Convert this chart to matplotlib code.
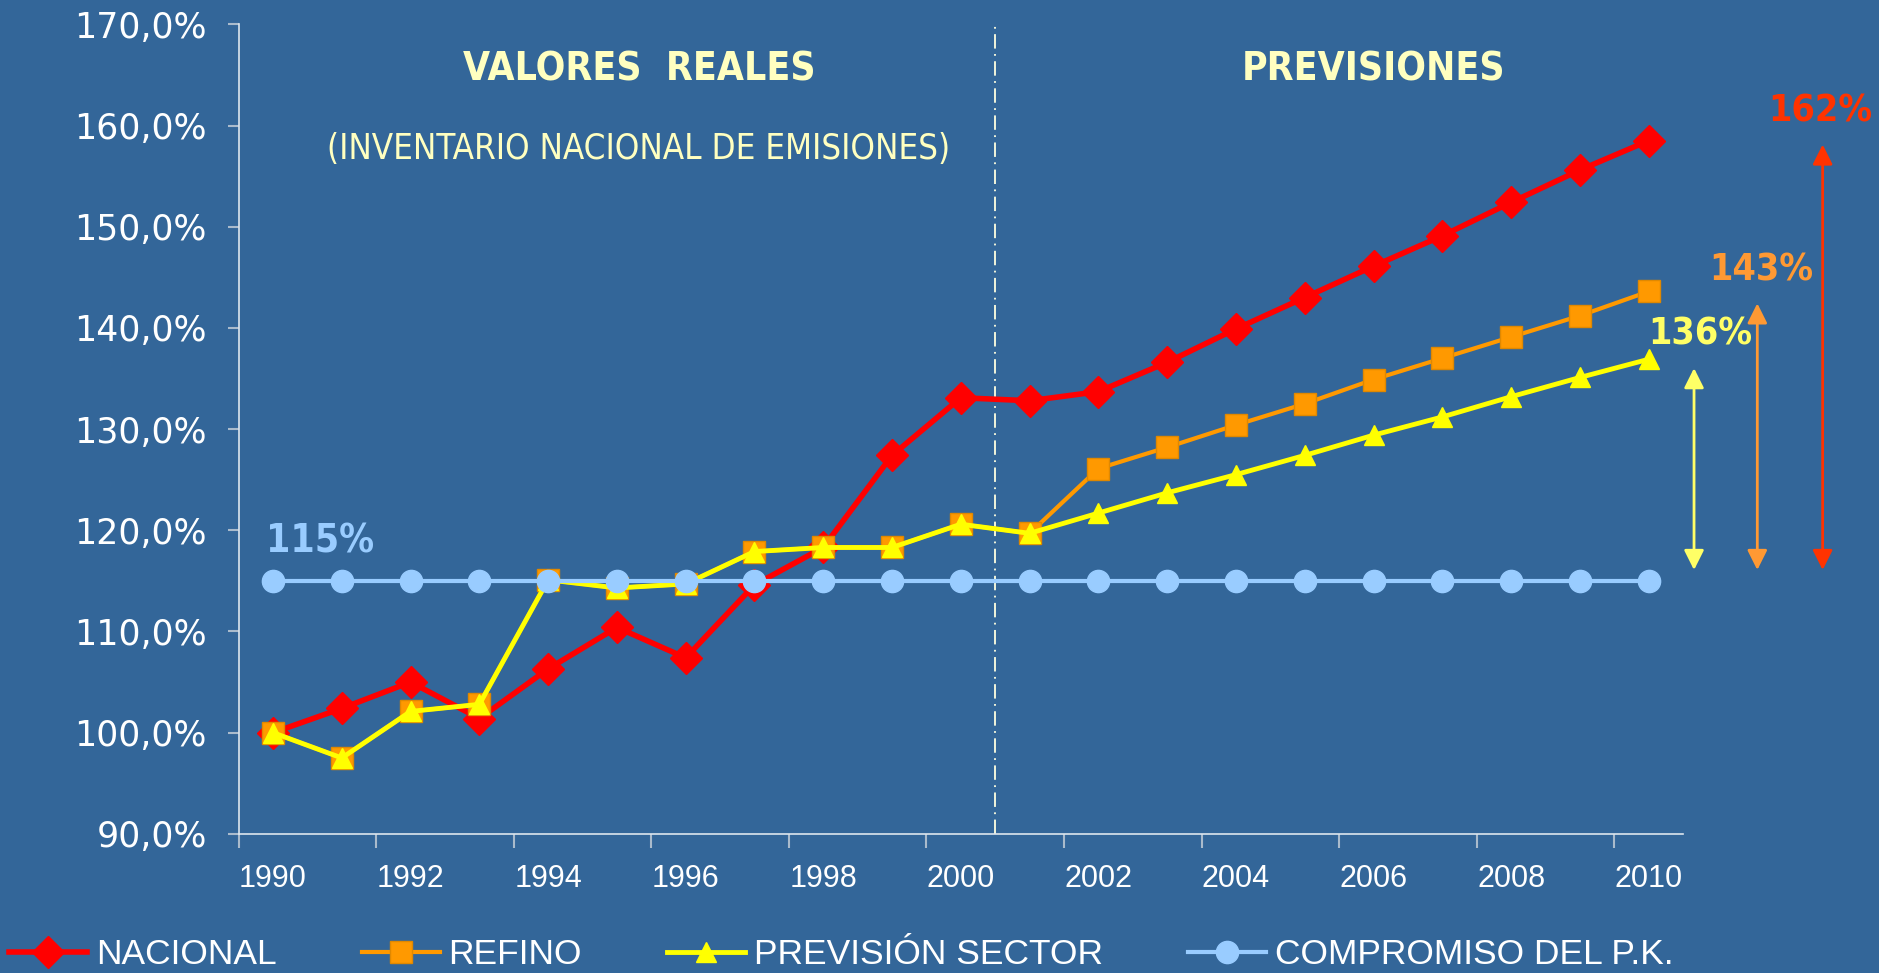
import numpy as np
import matplotlib
matplotlib.use("Agg")
import matplotlib.pyplot as plt
from matplotlib.ticker import FuncFormatter

years = list(range(1990, 2011))
nacional = [100.0, 102.4, 105.0, 101.4, 106.3, 110.4, 107.4, 114.6, 118.3, 127.4, 133.1,
            132.8, 133.7, 136.6, 139.9, 143.0, 146.1, 149.1, 152.4, 155.6, 158.5]
refino = [100.0, 97.5, 102.1, 102.8, 115.1, 114.3, 114.7, 117.9, 118.3, 118.3, 120.6,
          119.7, 126.1, 128.2, 130.4, 132.5, 134.9, 137.0, 139.1, 141.2, 143.6]
prevision = [100.0, 97.5, 102.1, 102.8, 115.1, 114.3, 114.7, 117.9, 118.3, 118.3, 120.6,
             119.7, 121.7, 123.7, 125.5, 127.4, 129.4, 131.2, 133.2, 135.1, 136.9]
compromiso = [115.0] * 21

# arrow targets (value at end of each series) and labels
arrow_base = 115.8
arrow_tops = [136.3, 142.7, 158.4]
arrow_labels = ["136%", "143%", "162%"]

bg = "#336699"
narrow = ["DejaVu Sans"]

fig = plt.figure(figsize=(18.79, 9.73), dpi=100, facecolor=bg)
ax = fig.add_axes([0.127, 0.143, 0.7687, 0.832])
ax.set_facecolor(bg)

x = np.arange(len(years))
ax.plot(x, nacional, color="#FF0000", lw=4, marker="D", ms=16, mec="#FF0000", label="NACIONAL", zorder=3)
ax.plot(x, refino, color="#FF9900", lw=3, marker="s", ms=16, mec="#E08800", label="REFINO", zorder=4)
ax.plot(x, prevision, color="#FFFF00", lw=3.5, marker="^", ms=15, mec="#FFFF00", label="PREVISIÓN SECTOR", zorder=5)
ax.plot(x, compromiso, color="#99CCFF", lw=3, marker="o", ms=16, mec="#99CCFF", label="COMPROMISO DEL P.K.", zorder=6)

ax.set_xlim(-0.5, len(years) - 0.5)
ax.set_ylim(90, 170)
ax.set_yticks(np.arange(90, 171, 10))
ax.yaxis.set_major_formatter(FuncFormatter(lambda v, p: f"{v:.1f}%".replace(".", ",")))

# category axis: ticks at boundaries, labels at centres
ax.set_xticks(np.arange(-0.5, len(years), 2))
ax.set_xticklabels([])
ax.set_xticks(x[::2], minor=True)
ax.set_xticklabels([str(y) for y in years[::2]], minor=True)
ax.tick_params(axis="x", which="major", length=10, color="#AABBCC", width=1.5, direction="out")
ax.tick_params(axis="x", which="minor", length=0, pad=22, labelsize=22, labelcolor="white")
ax.tick_params(axis="y", length=8, color="#AABBCC", width=1.5, labelsize=25, labelcolor="white", pad=15)
for lab in ax.get_xticklabels(minor=True):
    lab.set_family(["Liberation Sans", "DejaVu Sans"])

for s in ["top", "right"]:
    ax.spines[s].set_visible(False)
for s in ["left", "bottom"]:
    ax.spines[s].set_color("#DDE6EE")
    ax.spines[s].set_linewidth(1.2)

# split between real values and forecast
ax.axvline(10.5, color="#FFFFE0", lw=1.3, ls=(0, (8, 3, 1, 3)))

ax.text(5.32, 165.5, "VALORES  REALES", color="#FFFFC0", fontsize=28, fontweight="bold",
        family=narrow, stretch="condensed", ha="center", va="center")
ax.text(5.32, 157.7, "(INVENTARIO NACIONAL DE EMISIONES)", color="#FFFFC0", fontsize=25,
        family=narrow, stretch="condensed", ha="center", va="center")
ax.text(16.0, 165.5, "PREVISIONES", color="#FFFFC0", fontsize=28, fontweight="bold",
        family=narrow, stretch="condensed", ha="center", va="center")
ax.text(0.69, 118.9, "115%", color="#99CCFF", fontsize=28, fontweight="bold",
        family=narrow, stretch="condensed", ha="center", va="center")

arrow_x = [20.66, 21.58, 22.53]
arrow_cols = ["#FFFF66", "#FF9933", "#FF3300"]
label_pos = [(20.75, 139.3), (21.64, 145.7), (22.5, 161.4)]
for ax_x, top, col, lab, (lx, ly) in zip(arrow_x, arrow_tops, arrow_cols, arrow_labels, label_pos):
    ax.annotate("", xy=(ax_x, top), xytext=(ax_x, arrow_base),
                arrowprops=dict(arrowstyle="<|-|>,head_length=1.2,head_width=0.6", color=col, lw=2),
                annotation_clip=False)
    ax.text(lx, ly, lab, color=col, fontsize=27, fontweight="bold",
            family=narrow, stretch="condensed", ha="center", va="center", clip_on=False)

leg = fig.legend(loc="center left", bbox_to_anchor=(-0.012, 0.019), ncol=4, frameon=False,
                 labelcolor="white", handlelength=2.2, columnspacing=2.4,
                 handletextpad=0.25, prop={"family": ["Liberation Sans", "DejaVu Sans"], "size": 25.5})

fig.savefig("out.png", dpi=100, facecolor=bg)
